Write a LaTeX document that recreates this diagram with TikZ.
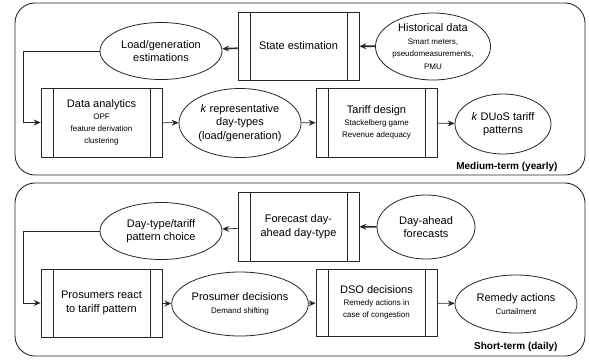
\documentclass[tikz,border=0pt]{standalone}
\usepackage{fontspec}
\setmainfont{Liberation Sans}
\usetikzlibrary{shapes.geometric,arrows.meta}
\tikzset{
  panel/.style={draw=black!85, line width=0.9pt, rounded corners=20pt},
  procbox/.style={draw=black!85, line width=0.8pt, minimum width=121pt, minimum height=68pt, inner sep=0pt, align=center, font=\fontsize{11}{13.5}\selectfont},
  oval/.style={ellipse, draw=black!85, line width=0.8pt, inner sep=0pt, align=center, font=\fontsize{11}{13.5}\selectfont},
  arr/.style={draw=black!85, line width=0.8pt, -{Stealth[length=7pt,width=6pt,inset=2.5pt]}},
  thickarr/.style={arr, line width=1.6pt},
  sub/.style={font=\fontsize{8}{12}\selectfont},
  tag/.style={font=\fontsize{10}{12}\selectfont\bfseries, anchor=east}
}
\newcommand{\subt}[1]{{\fontsize{8}{12}\selectfont #1}}
\begin{document}
\begin{tikzpicture}[x=1pt,y=-1pt]
\useasboundingbox (0,0) rectangle (589,360);
\draw[panel] (15,3) rectangle (585,175);
\draw[panel] (15,183) rectangle (585,356);

% Medium-term
\node[procbox] (se) at (298.5,46) {State estimation};
\node[oval, minimum width=112pt, minimum height=67pt] (hd) at (433,46.5)
  {Historical data\\[-1pt]\subt{Smart meters,}\\[-1pt]\subt{pseudomeasurements,}\\[-1pt]\subt{PMU}};
\node[oval, minimum width=122pt, minimum height=57pt] (lg) at (161,51) {Load/generation\\estimations};
\node[procbox, minimum height=69pt] (dan) at (101.5,122.5)
  {Data analytics\\[-1.5pt]\subt{OPF}\\[-1.5pt]\subt{feature derivation}\\[-1.5pt]\subt{clustering}};
\node[oval, minimum width=122pt, minimum height=69pt] (kr) at (240,123)
  {\textit{k} representative\\day-types\\(load/generation)};
\node[procbox, minimum height=69pt] (td) at (376.5,122.5)
  {Tariff design\\[-1.5pt]\subt{Stackelberg game}\\[-1.5pt]\subt{Revenue adequacy}};
\node[oval, minimum width=96pt, minimum height=60pt] (kd) at (503,124)
  {\textit{k} DUoS tariff\\patterns};
\node[tag] (mt) at (561,167) {Medium-term (yearly)};

% Short-term
\node[procbox, minimum height=69pt] (fc) at (298.5,226.5) {Forecast day-\\ahead day-type};
\node[oval, minimum width=98pt, minimum height=64pt] (dah) at (426,227) {Day-ahead\\forecasts};
\node[oval, minimum width=122pt, minimum height=57pt] (dt) at (161,231) {Day-type/tariff\\pattern choice};
\node[procbox] (pr) at (101.5,303) {Prosumers react\\to tariff pattern};
\node[oval, minimum width=122pt, minimum height=64pt] (pd) at (240,304)
  {Prosumer decisions\\[-1pt]\subt{Demand shifting}};
\node[procbox, minimum height=67pt] (dso) at (376.5,302.5)
  {DSO decisions\\[-1.5pt]\subt{Remedy actions in}\\[-1.5pt]\subt{case of congestion}};
\node[oval, minimum width=122pt, minimum height=58pt] (ra) at (516,304)
  {Remedy actions\\[-1pt]\subt{Curtailment}};
\node[tag] (st) at (561,347) {Short-term (daily)};

% inner vertical lines of process boxes
\foreach \n in {se,dan,td,fc,pr,dso}{
  \draw[draw=black!85, line width=0.8pt] ([xshift=12.5pt]\n.north west) -- ([xshift=12.5pt]\n.south west);
  \draw[draw=black!85, line width=0.8pt] ([xshift=-12.5pt]\n.north east) -- ([xshift=-12.5pt]\n.south east);
}

% connectors
\draw[thickarr] (hd) -- (se);
\draw[thickarr] (se) -- (lg);
\draw[arr] (lg.west) -- ++(-76,0) |- (dan.west);
\draw[arr] (dan) -- (kr);
\draw[arr] (kr) -- (td);
\draw[arr] (td) -- (kd);

\draw[thickarr] (dah) -- (fc);
\draw[arr] (fc) -- (dt);
\draw[arr] (dt.west) -- ++(-76,0) |- (pr.west);
\draw[arr] (pr) -- (pd);
\draw[arr] (pd) -- (dso);
\draw[arr] (dso) -- (ra);
\end{tikzpicture}
\end{document}
